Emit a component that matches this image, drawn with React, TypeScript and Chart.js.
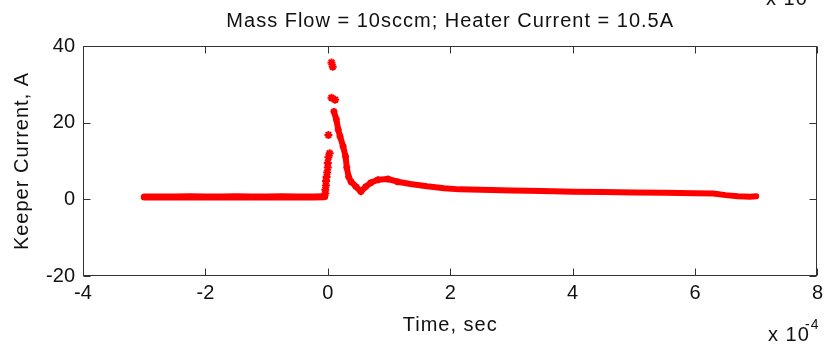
import React, { useEffect, useRef } from "react";
import { Chart, registerables } from "chart.js";

Chart.register(...registerables);

// Time axis values are in units of 1e-4 s (axis multiplier "x 10^-4")
const xTicks = [-4, -2, 0, 2, 4, 6, 8];
const yTicks = [-20, 0, 20, 40];

// Before ignition: flat trace
const preTime = [-3.0, -2.75, -2.5, -2.25, -2.0, -1.75, -1.5, -1.25, -1.0, -0.75, -0.5, -0.25, -0.05];
const preCurrent = [0.6, 0.6, 0.6, 0.7, 0.6, 0.6, 0.7, 0.6, 0.6, 0.7, 0.6, 0.6, 0.7];

// Rising edge and peak (isolated samples)
const riseTime = [-0.04, -0.04, -0.03, -0.03, -0.02, -0.01, 0.0, 0.0, 0.01, 0.03, 0.01, 0.06, 0.08, 0.06, 0.12];
const riseCurrent = [1.5, 2.5, 3.6, 4.8, 5.8, 7.0, 8.3, 9.5, 11.0, 12.0, 16.8, 35.7, 34.6, 26.5, 26.0];

// Decay, dip and slow tail
const decayTime = [0.10, 0.14, 0.17, 0.20, 0.25, 0.29, 0.31, 0.34, 0.38, 0.46, 0.54, 0.62, 0.70, 0.82, 0.98, 1.14, 1.35, 1.62, 1.9, 2.15, 2.5, 3.0, 3.5, 4.0, 4.5, 5.0, 5.5, 6.0, 6.3, 6.5, 6.7, 6.9, 7.0];
const decayCurrent = [22.9, 20.8, 18.2, 16.4, 13.8, 11.2, 8.3, 5.9, 4.6, 3.3, 2.0, 3.3, 4.3, 5.1, 5.3, 4.6, 4.0, 3.4, 2.9, 2.6, 2.5, 2.3, 2.2, 2.0, 1.9, 1.8, 1.7, 1.6, 1.5, 1.1, 0.8, 0.7, 0.8];

const RED = "#ff0000";
const FONT = "'Liberation Sans', Arial, sans-serif";

const pts = (t: number[], v: number[]) => t.map((x, i) => ({ x, y: v[i] }));

const decor = {
  id: "decor",
  afterDraw(chart: any) {
    const { ctx, chartArea } = chart;
    const { left, right, top, bottom } = chartArea;
    const xs = chart.scales.x;
    const ys = chart.scales.y;
    ctx.save();
    ctx.strokeStyle = "#333";
    ctx.lineWidth = 1;
    const L = Math.round(left) + 0.5;
    const R = Math.round(right) - 0.5;
    const T = Math.round(top) + 0.5;
    const B = Math.round(bottom) - 0.5;
    ctx.strokeRect(L, T, R - L, B - T);
    const tl = 7;
    ctx.beginPath();
    xTicks.forEach((v) => {
      const p = Math.round(xs.getPixelForValue(v)) + 0.5;
      ctx.moveTo(p, B);
      ctx.lineTo(p, B - tl);
      ctx.moveTo(p, T);
      ctx.lineTo(p, T + tl);
    });
    yTicks.forEach((v) => {
      const p = Math.round(ys.getPixelForValue(v)) + 0.5;
      ctx.moveTo(L, p);
      ctx.lineTo(L + tl, p);
      ctx.moveTo(R, p);
      ctx.lineTo(R - tl, p);
    });
    ctx.stroke();

    ctx.fillStyle = "#111";
    (ctx as any).letterSpacing = "1px";
    ctx.font = `20px ${FONT}`;
    ctx.textAlign = "center";
    ctx.textBaseline = "alphabetic";
    const cx = (left + right) / 2;
    ctx.fillText("Mass Flow = 10sccm; Heater Current = 10.5A", cx, 27);
    ctx.fillText("Time, sec", cx, 331);

    // multiplier labels
    ctx.textAlign = "left";
    ctx.fillText("x 10", 768, 341);
    ctx.font = `14px ${FONT}`;
    ctx.fillText("-4", 805, 329);
    ctx.font = `20px ${FONT}`;
    ctx.fillText("x 10", 766, 5);

    // y label
    ctx.save();
    (ctx as any).letterSpacing = "1px";
    ctx.translate(22, (top + bottom) / 2);
    ctx.rotate(-Math.PI / 2);
    ctx.textAlign = "center";
    ctx.textBaseline = "middle";
    ctx.fillText("Keeper Current, A", 0, 0);
    ctx.restore();
    ctx.restore();
  },
};

export default function App() {
  const ref = useRef<HTMLCanvasElement | null>(null);
  useEffect(() => {
    document.body.style.margin = "0";
    const tickFont = { family: FONT, size: 20 };
    const chart = new Chart(ref.current as HTMLCanvasElement, {
      type: "scatter",
      data: {
        datasets: [
          {
            data: pts(preTime, preCurrent),
            showLine: true,
            borderColor: RED,
            backgroundColor: RED,
            borderWidth: 7,
            borderCapStyle: "round",
            pointRadius: 0,
          },
          {
            data: pts(decayTime, decayCurrent),
            showLine: true,
            borderColor: RED,
            backgroundColor: RED,
            borderWidth: 6,
            borderCapStyle: "round",
            borderJoinStyle: "round",
            pointStyle: "star",
            pointRadius: (c: any) => (c.raw && c.raw.x < 1.2 ? 3.5 : 0),
            pointBorderWidth: 2,
            pointBorderColor: RED,
          },
          {
            data: pts(riseTime, riseCurrent),
            showLine: false,
            borderColor: RED,
            backgroundColor: RED,
            pointStyle: "star",
            pointRadius: 4,
            pointBorderWidth: 2,
          },
        ],
      } as any,
      options: {
        responsive: false,
        devicePixelRatio: 1,
        animation: false,
        layout: { padding: { top: 46, right: 5, left: 0, bottom: 0 } },
        plugins: { legend: { display: false }, tooltip: { enabled: false }, title: { display: false } },
        scales: {
          x: {
            type: "linear",
            min: -4,
            max: 8,
            afterBuildTicks: (s: any) => {
              s.ticks = xTicks.map((value) => ({ value }));
            },
            ticks: { font: tickFont, color: "#111", padding: 5, maxRotation: 0 },
            grid: { display: false, drawTicks: false },
            border: { display: false },
            afterFit: (s: any) => {
              s.height = 72;
            },
          },
          y: {
            min: -20,
            max: 40,
            afterBuildTicks: (s: any) => {
              s.ticks = yTicks.map((value) => ({ value }));
            },
            ticks: { font: tickFont, color: "#111", padding: 8 },
            grid: { display: false, drawTicks: false },
            border: { display: false },
            afterFit: (s: any) => {
              s.width = 83;
            },
          },
        },
      } as any,
      plugins: [decor],
    });
    return () => chart.destroy();
  }, []);
  return (
    <div style={{ width: 828, height: 348 }}>
      <canvas ref={ref} width={828} height={348} style={{ display: "block" }} />
    </div>
  );
}
